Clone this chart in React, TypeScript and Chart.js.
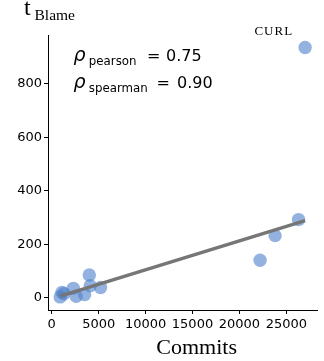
import React, { useEffect, useRef } from 'react';
import { Chart, registerables } from 'chart.js';

Chart.register(...registerables);

// Data
const commits = [900, 1100, 1300, 2300, 2600, 3500, 4000, 4100, 5200, 22200, 23800, 26300, 27000];
const blame = [3, 20, 15, 35, 5, 12, 85, 45, 38, 140, 232, 292, 935];
const fitX = [900, 27000];
const fitY = [6, 288];
const xTicks = [0, 5000, 10000, 15000, 20000, 25000];
const yTicks = [0, 200, 400, 600, 800];
const xRange = [-400, 28300];
const yRange = [-46, 982];
const labelledIndex = 12;
const labelledName = 'CURL';
const pearson = '0.75';
const spearman = '0.90';

const SANS = '"DejaVu Sans", sans-serif';
const SERIF = '"Liberation Serif", serif';

const textPlugin = {
  id: 'texts',
  afterDraw(chart: any) {
    const ctx = chart.ctx as CanvasRenderingContext2D;
    const xs = chart.scales.x;
    const ys = chart.scales.y;
    ctx.save();
    ctx.fillStyle = '#000';
    ctx.textBaseline = 'alphabetic';

    // y axis title t_Blame
    ctx.textAlign = 'left';
    ctx.font = `24px ${SERIF}`;
    ctx.fillText('t', 24, 14.5);
    ctx.font = `15.5px ${SERIF}`;
    ctx.fillText('Blame', 34.5, 19.5);

    // x axis title
    ctx.textAlign = 'center';
    ctx.font = `22px ${SERIF}`;
    ctx.fillText('Commits', (chart.chartArea.left + chart.chartArea.right) / 2 + 14, 354);

    // point label
    const px = xs.getPixelForValue(commits[labelledIndex]);
    const py = ys.getPixelForValue(blame[labelledIndex]);
    ctx.textAlign = 'right';
    ctx.font = `13px ${SERIF}`;
    (ctx as any).letterSpacing = '1px';
    ctx.fillText(labelledName, px - 12, py - 13);
    (ctx as any).letterSpacing = '0px';

    // correlation annotation
    ctx.textAlign = 'left';
    const lines = [
      { sub: 'pearson', val: pearson, base: 60.7, eq: 147, v: 166 },
      { sub: 'spearman', val: spearman, base: 88.3, eq: 156.5, v: 177 },
    ];
    for (const l of lines) {
      ctx.font = `oblique 19px ${SANS}`;
      ctx.fillText('\u03c1', 73.5, l.base);
      ctx.font = `11.8px ${SANS}`;
      ctx.fillText(l.sub, 88.8, l.base + 4);
      ctx.font = `16px ${SANS}`;
      ctx.fillText('=', l.eq, l.base);
      ctx.fillText(l.val, l.v, l.base);
    }
    ctx.restore();
  },
};

export default function App() {
  const ref = useRef<HTMLCanvasElement>(null);
  useEffect(() => {
    const canvas = ref.current!;
    const chart = new Chart(canvas, {
      type: 'scatter',
      data: {
        datasets: [
          {
            type: 'line',
            data: fitX.map((x, i) => ({ x, y: fitY[i] })),
            borderColor: '#767676',
            borderWidth: 3.5,
            pointRadius: 0,
            fill: false,
          } as any,
          {
            type: 'scatter',
            data: commits.map((x, i) => ({ x, y: blame[i] })),
            backgroundColor: 'rgba(76,126,202,0.6)',
            borderWidth: 0,
            pointRadius: 6.7,
          },
        ],
      },
      options: {
        responsive: false,
        animation: false,
        devicePixelRatio: 1,
        layout: { padding: { top: 35, right: 6, left: 0, bottom: 0 } },
        plugins: { legend: { display: false }, tooltip: { enabled: false } },
        scales: {
          x: {
            type: 'linear',
            min: xRange[0],
            max: xRange[1],
            afterBuildTicks: (s: any) => {
              s.ticks = xTicks.map((v) => ({ value: v }));
            },
            afterFit: (s: any) => {
              s.height = 51;
            },
            ticks: {
              color: '#000',
              font: { family: SANS, size: 13 },
              padding: 3,
              maxRotation: 0,
              autoSkip: false,
              callback: (v: any) => String(v),
            },
            grid: { display: true, drawOnChartArea: false, tickLength: 4, color: '#000', lineWidth: 1 },
            border: { display: true, color: '#000', width: 1 },
          },
          y: {
            type: 'linear',
            min: yRange[0],
            max: yRange[1],
            afterBuildTicks: (s: any) => {
              s.ticks = yTicks.map((v) => ({ value: v }));
            },
            afterFit: (s: any) => {
              s.width = 48;
            },
            ticks: {
              color: '#000',
              font: { family: SANS, size: 13 },
              padding: 2,
              autoSkip: false,
              callback: (v: any) => String(v),
            },
            grid: { display: true, drawOnChartArea: false, tickLength: 4, color: '#000', lineWidth: 1 },
            border: { display: true, color: '#000', width: 1 },
          },
        },
      },
      plugins: [textPlugin],
    } as any);
    return () => chart.destroy();
  }, []);
  return (
    <div style={{ position: 'absolute', left: 0, top: 0, width: 324, height: 361, background: '#fff' }}>
      <canvas ref={ref} width={324} height={361} style={{ display: 'block', width: 324, height: 361 }} />
    </div>
  );
}
